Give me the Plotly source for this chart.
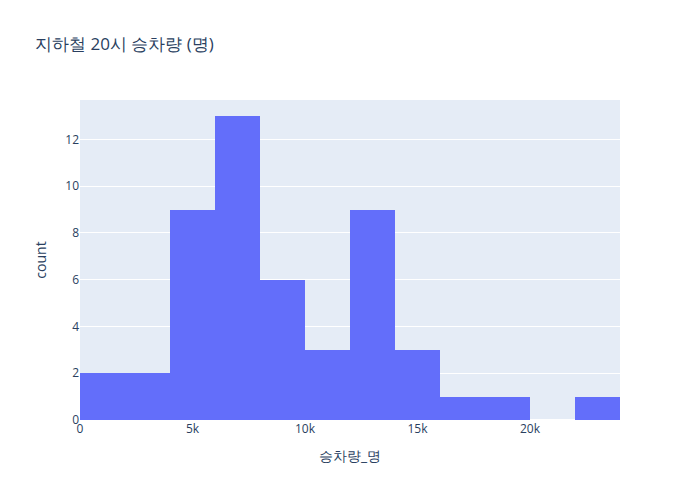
import plotly.express as px
import pandas as pd

# Estimated per-record values (명), read from the histogram bin counts
boarding = [
    800, 1500,
    2500, 3400,
    4200, 4500, 4800, 5000, 5200, 5400, 5600, 5800, 5900,
    6000, 6200, 6300, 6500, 6600, 6800, 6900, 7000, 7200, 7400, 7500, 7700, 7900,
    8200, 8500, 8800, 9100, 9400, 9800,
    10500, 11000, 11600,
    12100, 12400, 12600, 12800, 13000, 13200, 13400, 13600, 13900,
    14300, 14900, 15500,
    16800,
    19200,
    23100,
]

col = "승차량_명"
df = pd.DataFrame({col: boarding})

fig = px.histogram(df, x=col, title="지하철 20시 승차량 (명)")
fig.update_traces(xbins=dict(start=0, end=24000, size=2000))
fig.update_layout(width=700, height=500)
fig.update_xaxes(range=[0, 24000])
fig.write_html(
    "out.html",
    config={"displayModeBar": False},
    post_script="document.body.style.margin='0';",
)
